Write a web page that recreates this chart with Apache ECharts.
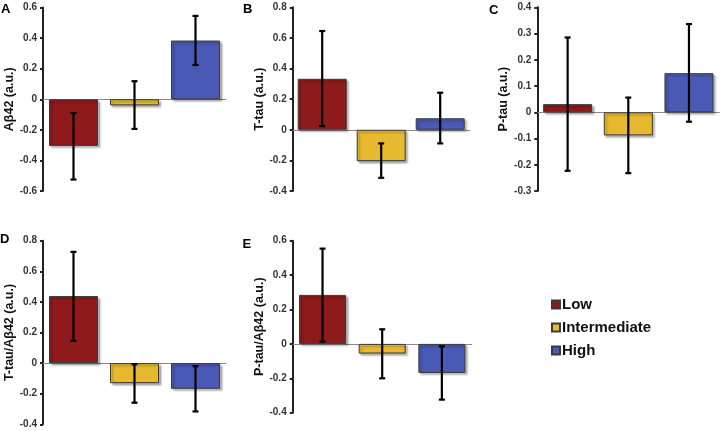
<!DOCTYPE html>
<html>
<head>
<meta charset="utf-8">
<script src="https://cdn.jsdelivr.net/npm/echarts@6/dist/echarts.min.js"></script>
<style>html,body{margin:0;padding:0;background:#fff;}#c{width:724px;height:431px;}</style>
</head>
<body>
<div id="c"></div>
<script>
var groups = ['Low', 'Intermediate', 'High'];
var colors = ['#8E1A1B', '#E6B92E', '#4A59B5'];
var panelLetters = ['A', 'B', 'C', 'D', 'E'];
var axisNames = ['Aβ42 (a.u.)', 'T-tau (a.u.)', 'P-tau (a.u.)', 'T-tau/Aβ42 (a.u.)', 'P-tau/Aβ42 (a.u.)'];
// mean values [Low, Intermediate, High] per panel
var meanA = [-0.305, -0.04, 0.384];
var meanB = [0.333, -0.205, 0.075];
var meanC = [0.031, -0.088, 0.149];
var meanD = [0.438, -0.131, -0.168];
var meanE = [0.285, -0.056, -0.169];
// error bars [low, high]
var errA = [[-0.525, -0.09], [-0.194, 0.118], [0.224, 0.545]];
var errB = [[0.024, 0.645], [-0.314, -0.089], [-0.089, 0.242]];
var errC = [[-0.223, 0.285], [-0.232, 0.056], [-0.036, 0.336]];
var errD = [[0.146, 0.727], [-0.259, -0.007], [-0.316, -0.02]];
var errE = [[0.013, 0.554], [-0.2, 0.085], [-0.324, -0.014]];
// y axis ranges [min, max, interval]
var yRangeA = [-0.6, 0.6, 0.2];
var yRangeB = [-0.4, 0.8, 0.2];
var yRangeC = [-0.3, 0.4, 0.1];
var yRangeD = [-0.4, 0.8, 0.2];
var yRangeE = [-0.4, 0.6, 0.2];

var means = [meanA, meanB, meanC, meanD, meanE];
var errs = [errA, errB, errC, errD, errE];
var ranges = [yRangeA, yRangeB, yRangeC, yRangeD, yRangeE];

var grids = [
  {left: 43, top: 7.5, width: 183, height: 183.5},
  {left: 292.7, top: 7.3, width: 177, height: 183.7},
  {left: 537.3, top: 7.3, width: 182, height: 183.7},
  {left: 43, top: 240.7, width: 183, height: 183.6},
  {left: 292.7, top: 240.7, width: 179, height: 172}
];
var letterPos = [[6, 10], [248, 9.5], [494, 10.5], [5, 239.5], [247.5, 245]];

var xAxes = [], yAxes = [], series = [], graphics = [];
for (var p = 0; p < 5; p++) {
  xAxes.push({
    type: 'category', gridIndex: p, data: groups,
    axisLine: {onZero: true, lineStyle: {color: '#8a8a8a', width: 1.2}},
    axisTick: {show: false}, axisLabel: {show: false}, splitLine: {show: false}
  });
  var r = ranges[p];
  yAxes.push({
    type: 'value', gridIndex: p, min: r[0], max: r[1], interval: r[2],
    name: axisNames[p], nameLocation: 'middle', nameRotate: 90, nameGap: 20,
    nameTextStyle: {fontFamily: 'Liberation Sans, Arial', fontWeight: 'bold', fontSize: 12.5, color: '#111'},
    axisLine: {show: true, lineStyle: {color: '#222', width: 2}},
    axisTick: {show: true, length: 3, lineStyle: {color: '#222', width: 2}},
    axisLabel: {fontFamily: 'Liberation Sans, Arial', fontWeight: 'bold', fontSize: 10, color: '#333', margin: 6,
      formatter: function (v) { return String(Math.round(v * 10) / 10); }},
    splitLine: {show: false}
  });
  for (var g = 0; g < 3; g++) {
    var d = ['-', '-', '-'];
    d[g] = means[p][g];
    series.push({
      name: groups[g], type: 'bar', xAxisIndex: p, yAxisIndex: p,
      data: d, barWidth: p === 4 ? 47 : 49, barGap: '-100%',
      itemStyle: {color: colors[g], borderColor: '#3a3a3a', borderWidth: 1,
        shadowColor: 'rgba(0,0,0,0.3)', shadowBlur: 2, shadowOffsetX: 2, shadowOffsetY: 2},
      emphasis: {disabled: true}
    });
  }
  (function (pi) {
    series.push({
      type: 'custom', xAxisIndex: pi, yAxisIndex: pi, z: 10,
      data: errs[pi].map(function (e, i) { return [i, e[0], e[1]]; }),
      renderItem: function (params, api) {
        var lo = api.coord([api.value(0), api.value(1)]);
        var hi = api.coord([api.value(0), api.value(2)]);
        var cw = 3;
        var st = {stroke: '#000', lineWidth: 2.2};
        return {type: 'group', children: [
          {type: 'line', shape: {x1: hi[0], y1: hi[1], x2: lo[0], y2: lo[1]}, style: st},
          {type: 'line', shape: {x1: hi[0] - cw, y1: hi[1], x2: hi[0] + cw, y2: hi[1]}, style: st},
          {type: 'line', shape: {x1: lo[0] - cw, y1: lo[1], x2: lo[0] + cw, y2: lo[1]}, style: st}
        ]};
      }
    });
  })(p);
  graphics.push({
    type: 'text', left: letterPos[p][0] - 5, top: letterPos[p][1] - 7,
    style: {text: panelLetters[p], font: 'bold 13px Liberation Sans, Arial', fill: '#000'}
  });
}

var chart = echarts.init(document.getElementById('c'), null, {renderer: 'canvas'});
chart.setOption({
  animation: false,
  backgroundColor: '#fff',
  grid: grids,
  xAxis: xAxes,
  yAxis: yAxes,
  series: series,
  graphic: graphics,
  legend: {
    data: groups, orient: 'vertical', left: 546, top: 292,
    itemWidth: 8, itemHeight: 8, itemGap: 8, icon: 'rect',
    textStyle: {fontFamily: 'Liberation Sans, Arial', fontWeight: 'bold', fontSize: 15, color: '#111', padding: [0, 0, 0, -3]}
  }
});
</script>
</body>
</html>
